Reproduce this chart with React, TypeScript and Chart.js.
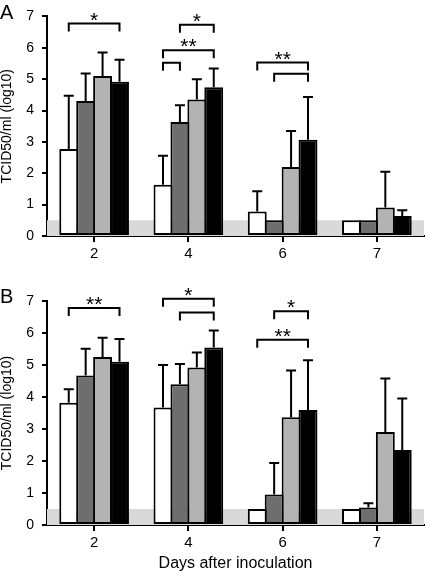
import React, { useEffect, useRef } from "react";
import { Chart, registerables } from "chart.js";
Chart.register(...registerables);

// ---------- data ----------
const days = ["2", "4", "6", "7"];
const yTicks = [0, 1, 2, 3, 4, 5, 6, 7];
const detectionLimit = 0.5;
const seriesNames = ["Group 1", "Group 2", "Group 3", "Group 4"];

// Panel A (means and mean+SD)
const aWhite = [2.77, 1.63, 0.78, 0.5];
const aDark = [4.3, 3.63, 0.5, 0.5];
const aLight = [5.1, 4.35, 2.2, 0.91];
const aBlack = [4.92, 4.74, 3.07, 0.64];
const aWhiteErr = [4.47, 2.56, 1.43, null];
const aDarkErr = [5.18, 4.17, null, null];
const aLightErr = [5.85, 5.0, 3.35, 2.05];
const aBlackErr = [5.62, 5.34, 4.43, 0.82];

// Panel B
const bWhite = [3.82, 3.67, 0.5, 0.5];
const bDark = [4.67, 4.4, 0.95, 0.55];
const bLight = [5.25, 4.92, 3.37, 2.91];
const bBlack = [5.1, 5.55, 3.59, 2.34];
const bWhiteErr = [4.24, 5.0, null, null];
const bDarkErr = [5.51, 5.03, 1.94, 0.68];
const bLightErr = [5.85, 5.39, 4.83, 4.58];
const bBlackErr = [5.81, 6.08, 5.15, 3.95];

// Significance brackets: day index, from series, to series, level, label
const aBracketDay = [0, 1, 1, 1, 2, 2];
const aBracketFrom = [0, 1, 0, 0, 0, 1];
const aBracketTo = [3, 3, 3, 1, 3, 3];
const aBracketY = [6.77, 6.73, 5.92, 5.52, 5.53, 5.17];
const aBracketLabel = ["*", "*", "**", "", "**", ""];

const bBracketDay = [0, 1, 1, 2, 2];
const bBracketFrom = [0, 0, 1, 1, 0];
const bBracketTo = [3, 3, 3, 3, 3];
const bBracketY = [6.78, 7.07, 6.64, 6.68, 5.79];
const bBracketLabel = ["**", "*", "", "*", "**"];

// ---------- styles ----------
const FONT = "'Liberation Sans', Arial, Helvetica, sans-serif";
const seriesColors = ["#ffffff", "#6e6e6e", "#b3b3b3", "#000000"];

type PanelDef = {
  letter: string;
  values: number[][];
  errors: (number | null)[][];
  bDay: number[];
  bFrom: number[];
  bTo: number[];
  bY: number[];
  bLabel: string[];
  padTop: number;
  xHeight: number;
  showXTitle: boolean;
  letterBaseline: number;
};

function makePlugin(p: PanelDef) {
  return {
    id: "extras" + p.letter,
    beforeDatasetsDraw(chart: any) {
      const { ctx, chartArea, scales } = chart;
      const y = scales.y;
      const top = y.getPixelForValue(detectionLimit);
      const bot = y.getPixelForValue(0);
      ctx.save();
      ctx.fillStyle = "#d9d9d9";
      ctx.fillRect(chartArea.left, top, chartArea.right - chartArea.left, bot - top);
      ctx.restore();
    },
    afterDatasetsDraw(chart: any) {
      const { ctx, scales } = chart;
      const y = scales.y;
      ctx.save();
      ctx.strokeStyle = "#000";
      ctx.lineWidth = 2;
      ctx.lineCap = "butt";
      // error bars (upper only)
      p.errors.forEach((errs, i) => {
        const meta = chart.getDatasetMeta(i);
        errs.forEach((e, j) => {
          if (e == null) return;
          const bar = meta.data[j];
          const yt = y.getPixelForValue(e);
          ctx.beginPath();
          ctx.moveTo(bar.x, bar.y);
          ctx.lineTo(bar.x, yt);
          ctx.moveTo(bar.x - 5, yt);
          ctx.lineTo(bar.x + 5, yt);
          ctx.stroke();
        });
      });
      // brackets
      ctx.fillStyle = "#000";
      ctx.font = `21px ${FONT}`;
      ctx.textAlign = "center";
      ctx.textBaseline = "alphabetic";
      p.bDay.forEach((d, k) => {
        const x1 = chart.getDatasetMeta(p.bFrom[k]).data[d].x;
        const x2 = chart.getDatasetMeta(p.bTo[k]).data[d].x;
        const yy = y.getPixelForValue(p.bY[k]);
        ctx.beginPath();
        ctx.moveTo(x1, yy + 8);
        ctx.lineTo(x1, yy);
        ctx.lineTo(x2, yy);
        ctx.lineTo(x2, yy + 8);
        ctx.stroke();
        const lab = p.bLabel[k];
        if (lab) {
          const m = ctx.measureText(lab);
          const cy = yy - 7;
          const base = cy + (m.actualBoundingBoxAscent - m.actualBoundingBoxDescent) / 2;
          ctx.fillText(lab, (x1 + x2) / 2, base);
        }
      });
      ctx.restore();
    },
    afterDraw(chart: any) {
      const { ctx } = chart;
      ctx.save();
      ctx.fillStyle = "#000";
      ctx.font = `20px ${FONT}`;
      ctx.textAlign = "left";
      ctx.textBaseline = "alphabetic";
      ctx.fillText(p.letter, 0, p.letterBaseline);
      ctx.restore();
    },
  };
}

function makeChart(canvas: HTMLCanvasElement, p: PanelDef) {
  const datasets = p.values.map((data, i) => ({
    label: seriesNames[i],
    data,
    backgroundColor: seriesColors[i],
    borderColor: "#000",
    borderWidth: 2,
    borderSkipped: false,
    categoryPercentage: 0.718,
    barPercentage: 1.118,
  }));
  return new Chart(canvas, {
    type: "bar",
    data: { labels: days, datasets },
    options: {
      animation: false,
      responsive: false,
      devicePixelRatio: 1,
      layout: { padding: { top: p.padTop, right: 1, left: 0, bottom: 0 } },
      plugins: { legend: { display: false }, tooltip: { enabled: false }, title: { display: false } },
      scales: {
        x: {
          z: 1,
          offset: true,
          border: { color: "#000", width: 2 },
          grid: {
            offset: false,
            drawOnChartArea: false,
            drawTicks: true,
            tickLength: 6,
            color: "#000",
            lineWidth: 2,
          },
          ticks: { color: "#000", font: { family: FONT, size: 15 }, padding: 3 },
          title: {
            display: p.showXTitle,
            text: "Days after inoculation",
            color: "#000",
            font: { family: FONT, size: 16 },
            padding: { top: 0, bottom: 0 },
          },
          afterFit: (s: any) => {
            s.height = p.xHeight;
          },
        },
        y: {
          z: 1,
          min: 0,
          max: 7,
          border: { color: "#000", width: 2 },
          grid: {
            drawOnChartArea: false,
            drawTicks: true,
            tickLength: 5,
            color: "#000",
            lineWidth: 2,
          },
          afterBuildTicks: (s: any) => {
            s.ticks = yTicks.map((v) => ({ value: v }));
          },
          ticks: { color: "#000", font: { family: FONT, size: 14 }, padding: 8 },
          title: {
            display: true,
            text: "TCID50/ml (log10)",
            color: "#000",
            font: { family: FONT, size: 14, lineHeight: 1 },
            padding: { top: 0, bottom: 0 },
          },
          afterFit: (s: any) => {
            s.width = 47;
          },
        },
      },
    },
    plugins: [makePlugin(p)],
  } as any);
}

const panelA: PanelDef = {
  letter: "A",
  values: [aWhite, aDark, aLight, aBlack],
  errors: [aWhiteErr, aDarkErr, aLightErr, aBlackErr],
  bDay: aBracketDay,
  bFrom: aBracketFrom,
  bTo: aBracketTo,
  bY: aBracketY,
  bLabel: aBracketLabel,
  padTop: 11,
  xHeight: 44,
  showXTitle: false,
  letterBaseline: 19,
};

const panelB: PanelDef = {
  letter: "B",
  values: [bWhite, bDark, bLight, bBlack],
  errors: [bWhiteErr, bDarkErr, bLightErr, bBlackErr],
  bDay: bBracketDay,
  bFrom: bBracketFrom,
  bTo: bBracketTo,
  bY: bBracketY,
  bLabel: bBracketLabel,
  padTop: 21,
  xHeight: 48,
  showXTitle: true,
  letterBaseline: 23,
};

export default function App() {
  const refA = useRef<HTMLCanvasElement>(null);
  const refB = useRef<HTMLCanvasElement>(null);
  useEffect(() => {
    const ca = makeChart(refA.current!, panelA);
    const cb = makeChart(refB.current!, panelB);
    return () => {
      ca.destroy();
      cb.destroy();
    };
  }, []);
  return (
    <div style={{ position: "fixed", left: 0, top: 0, width: 425, height: 573, background: "#fff" }}>
      <canvas ref={refA} width={425} height={280} style={{ position: "absolute", left: 0, top: 0, width: 425, height: 280 }} />
      <canvas ref={refB} width={425} height={293} style={{ position: "absolute", left: 0, top: 280, width: 425, height: 293 }} />
    </div>
  );
}
